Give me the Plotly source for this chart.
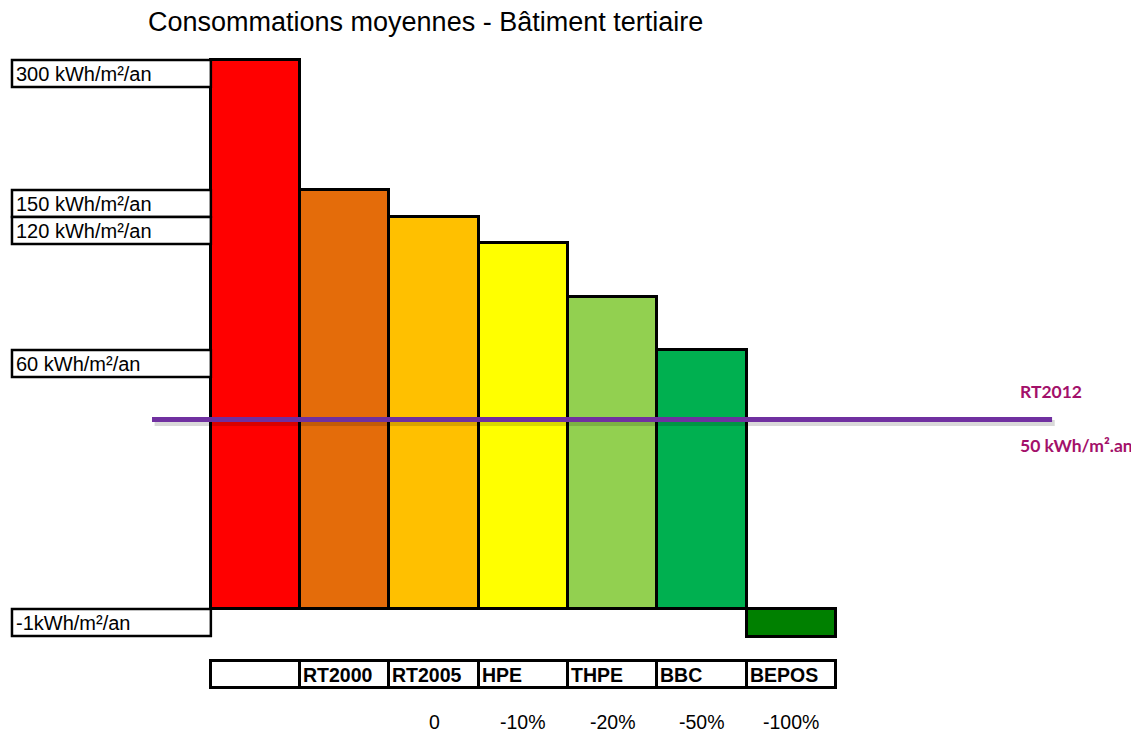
import plotly.graph_objects as go

# ---- data (display heights in chart units above the baseline) ----
categories = ["", "RT2000", "RT2005", "HPE", "THPE", "BBC", "BEPOS"]
bar_heights = [549, 419, 392, 366, 312, 259, -28]
bar_colors = ["#FF0000", "#E46C0A", "#FFC000", "#FFFF00", "#92D050", "#00B050", "#008000"]
reductions = ["", "", "0", "-10%", "-20%", "-50%", "-100%"]
level_labels = ["300 kWh/m²/an", "150 kWh/m²/an", "120 kWh/m²/an", "60 kWh/m²/an", "-1kWh/m²/an"]
level_tops = [549, 419, 392, 259, 0]
rt2012_level = 189.5
rt2012_labels = ["RT2012", "50 kWh/m².an"]
title_text = "Consommations moyennes - Bâtiment tertiaire"

# layout helpers (chart units)
ROW_H = 27
TABLE_TOP = -52
PCT_Y = -113
LABEL_X0 = -2.727

xs = list(range(len(categories)))

fig = go.Figure()

# main bars
fig.add_trace(go.Bar(
    x=xs, y=bar_heights, width=1.0,
    marker=dict(color=bar_colors, line=dict(color="black", width=3)),
    hoverinfo="skip", showlegend=False,
))

# category table row
fig.add_trace(go.Bar(
    x=xs, y=[ROW_H] * len(xs), base=[TABLE_TOP - ROW_H] * len(xs), width=1.0,
    marker=dict(color="white", line=dict(color="black", width=3)),
    hoverinfo="skip", showlegend=False,
))

shapes = []
annotations = []
FONT = "Liberation Sans, Arial"

# level label boxes
for lab, top in zip(level_labels, level_tops):
    shapes.append(dict(type="rect", xref="x", yref="y",
                       x0=LABEL_X0, x1=-0.5, y0=top - ROW_H, y1=top,
                       line=dict(color="black", width=2.5), fillcolor="white", layer="above"))
    annotations.append(dict(x=LABEL_X0, y=top - ROW_H / 2, xref="x", yref="y",
                            text=lab, showarrow=False, xanchor="left", xshift=2,
                            font=dict(family=FONT, size=20, color="black")))

# table texts
for i, c in enumerate(categories):
    if c:
        annotations.append(dict(x=i - 0.5, y=TABLE_TOP - ROW_H / 2, xref="x", yref="y",
                                text="<b>%s</b>" % c, showarrow=False, xanchor="left", xshift=1,
                                font=dict(family=FONT, size=19.5, color="black")))

# reductions row
for i, r in enumerate(reductions):
    if r:
        annotations.append(dict(x=i, y=PCT_Y, xref="x", yref="y", text=r, showarrow=False,
                                font=dict(family=FONT, size=19.5, color="black")))

# RT2012 line with shadow
fig.add_trace(go.Scatter(x=[-1.13, 8.95], y=[rt2012_level - 3.5, rt2012_level - 3.5], mode="lines",
                         line=dict(color="rgba(0,0,0,0.15)", width=6),
                         hoverinfo="skip", showlegend=False))
fig.add_trace(go.Scatter(x=[-1.159, 8.92], y=[rt2012_level, rt2012_level], mode="lines",
                         line=dict(color="#7030A0", width=5),
                         hoverinfo="skip", showlegend=False))

annotations.append(dict(x=8.535, y=rt2012_level + 28.5, xref="x", yref="y", text="<b>RT2012</b>",
                        showarrow=False, xanchor="left",
                        font=dict(family="Lato, Open Sans", size=17.5, color="#A3106A")))
annotations.append(dict(x=8.535, y=rt2012_level - 25.5, xref="x", yref="y", text="<b>50 kWh/m².an</b>",
                        showarrow=False, xanchor="left",
                        font=dict(family="Lato, Open Sans", size=17.5, color="#A3106A")))

# title
annotations.append(dict(x=417 / 1139, y=1 - 14 / 733, xref="paper", yref="paper", text=title_text,
                        showarrow=False, xanchor="center", yanchor="middle",
                        font=dict(family=FONT, size=27, color="black")))

fig.update_layout(
    width=1139, height=733,
    margin=dict(l=0, r=0, t=0, b=0),
    paper_bgcolor="white", plot_bgcolor="white",
    xaxis=dict(range=[-2.7716, 9.983], visible=False, fixedrange=True),
    yaxis=dict(range=[-132, 601], visible=False, fixedrange=True),
    bargap=0, barmode="overlay",
    shapes=shapes, annotations=annotations,
)

fig.write_html("out.html")
